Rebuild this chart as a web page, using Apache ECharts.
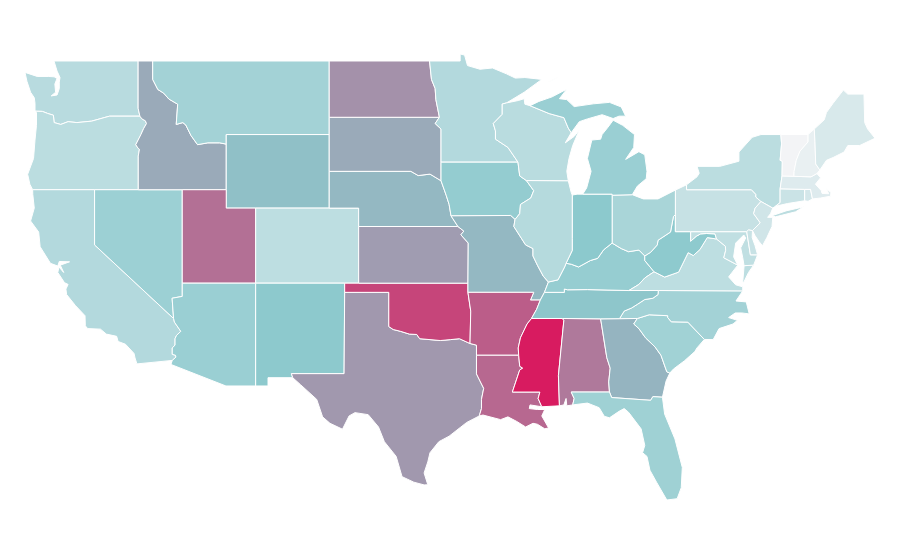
<!DOCTYPE html>
<html>
<head>
<meta charset="utf-8">
<title>US states</title>
<style>html,body{margin:0;padding:0;background:#fff}#main{width:900px;height:560px}</style>
<script src="https://cdn.jsdelivr.net/npm/echarts@6/dist/echarts.min.js"></script>
</head>
<body>
<div id="main"></div>
<script>
var stateNames = ['Washington','Oregon','California','Nevada','Idaho','Montana','Wyoming','Utah','Colorado','Arizona','New Mexico','Texas','Oklahoma','Kansas','Nebraska','South Dakota','North Dakota','Minnesota','Iowa','Missouri','Arkansas','Louisiana','Mississippi','Alabama','Georgia','Florida','South Carolina','North Carolina','Tennessee','Kentucky','Virginia','West Virginia','Maryland','Delaware','Pennsylvania','Ohio','Indiana','Illinois','Wisconsin','Michigan','New York','Connecticut','Rhode Island','Massachusetts','Vermont','New Hampshire','Maine','New Jersey'];
var stateValues = [28.6,27,31,42,59,39,52.6,75.6,26,43,49.5,64,88,63,55,59,66,31,46,55,81,78,100,73,56,41,40,39,51,45,26,49,25,21,22,36,50,30,28,43,27,20,15,10,0,5,13,17];

// lon,lat outlines, | starts another ring of the same state
var stateOutlines = {
'Washington':'-124.73,48.38 -123.9,48.16 -123.15,48.16 -122.75,48.14 -122.55,48.05 -122.7,47.75 -122.65,47.3 -122.95,47.1 -122.55,47.15 -122.4,47.5 -122.4,47.85 -122.35,48.1 -122.55,48.45 -122.76,49 -117.04,49 -117.04,46.43 -116.92,46 -118.98,46 -119.3,45.93 -120.2,45.73 -121.2,45.65 -121.8,45.7 -122.3,45.55 -122.75,45.65 -122.8,46.05 -123.2,46.15 -123.55,46.26 -124.05,46.27 -124.05,46.7 -124.1,47 -124.35,47.3 -124.6,47.9',
'Oregon':'-123.55,46.26 -123.2,46.15 -122.8,46.05 -122.75,45.65 -122.3,45.55 -121.8,45.7 -121.2,45.65 -120.2,45.73 -119.3,45.93 -118.98,46 -116.92,46 -116.78,45.85 -116.55,45.75 -116.47,45.6 -116.67,45.32 -116.85,45 -117.2,44.45 -117.04,44.25 -116.95,44.2 -117.03,43.83 -117.03,42 -120,42 -124.21,42 -124.4,42.3 -124.55,42.84 -124.15,43.7 -124.05,44.7 -123.95,45.5 -123.95,46.2 -124.05,46.27',
'California':'-124.21,42 -120,42 -120,39 -114.63,35 -114.57,34.8 -114.14,34.3 -114.43,34.08 -114.53,33.9 -114.53,33.55 -114.72,33.4 -114.72,33.05 -114.5,33 -114.47,32.9 -114.72,32.72 -117.12,32.53 -117.25,32.85 -117.32,33.1 -117.9,33.6 -118.4,33.75 -118.5,34.03 -119.2,34.15 -119.6,34.42 -120.47,34.45 -120.63,34.6 -120.65,35.15 -121.3,35.7 -121.9,36.3 -121.95,36.6 -121.8,36.85 -122.05,36.95 -122.5,37.5 -122.42,37.8 -122.1,37.5 -122.33,37.9 -121.7,38.08 -122.4,38.1 -122.5,37.85 -123,38 -123.7,38.9 -123.8,39.7 -124.35,40.3 -124.1,41 -124.2,41.75',
'Nevada':'-120,42 -117.03,42 -114.04,42 -114.04,36.92 -114.04,36.2 -114.73,36.1 -114.63,35 -120,39',
'Idaho':'-117.04,49 -116.05,49 -116.05,48 -115.7,47.45 -115.3,47.25 -114.95,46.93 -114.35,46.65 -114.45,45.55 -114,45.65 -113.8,45.52 -113.45,44.95 -113,44.45 -112.3,44.55 -111.5,44.55 -111.05,44.48 -111.05,42 -114.04,42 -117.03,42 -117.03,43.83 -116.95,44.2 -117.04,44.25 -117.2,44.45 -116.85,45 -116.67,45.32 -116.47,45.6 -116.55,45.75 -116.78,45.85 -116.92,46 -117.04,46.43',
'Montana':'-116.05,49 -104.05,49 -104.05,45.94 -104.05,45 -111.05,45 -111.05,44.48 -111.5,44.55 -112.3,44.55 -113,44.45 -113.45,44.95 -113.8,45.52 -114,45.65 -114.45,45.55 -114.35,46.65 -114.95,46.93 -115.3,47.25 -115.7,47.45 -116.05,48',
'Wyoming':'-111.05,45 -104.05,45 -104.05,43 -104.05,41 -109.05,41 -111.05,41 -111.05,42',
'Utah':'-114.04,42 -111.05,42 -111.05,41 -109.05,41 -109.05,36.92 -114.04,36.92',
'Colorado':'-109.05,41 -104.05,41 -102.05,41 -102.05,40 -102.05,36.92 -103,36.92 -109.05,36.92',
'Arizona':'-114.04,36.92 -109.05,36.92 -109.05,31.33 -111.07,31.33 -114.81,32.5 -114.72,32.72 -114.47,32.9 -114.5,33 -114.72,33.05 -114.72,33.4 -114.53,33.55 -114.53,33.9 -114.43,34.08 -114.14,34.3 -114.57,34.8 -114.63,35 -114.73,36.1 -114.04,36.2',
'New Mexico':'-109.05,36.92 -103,36.92 -103,36.42 -103.04,32 -106.62,32 -106.53,31.78 -108.21,31.78 -108.21,31.33 -109.05,31.33',
'Texas':'-103,36.42 -100,36.42 -100,34.56 -99.7,34.4 -99.2,34.3 -98.6,34.15 -98.1,34.13 -97.9,33.9 -97.2,33.85 -96.5,33.8 -95.8,33.85 -95.2,33.9 -94.48,33.64 -94.04,33.55 -94.04,33 -94.04,31.99 -93.8,31.6 -93.55,31.2 -93.7,30.6 -93.7,30.1 -93.85,29.7 -94.7,29.35 -95.1,29.1 -95.9,28.6 -96.6,28.3 -97.2,27.7 -97.35,27.2 -97.6,26.6 -97.35,25.96 -97.6,25.95 -98.3,26.1 -99.1,26.4 -99.5,27.5 -100.3,28.3 -100.7,29.1 -101.4,29.77 -102.3,29.88 -102.7,29.7 -103.15,28.98 -104,29.3 -104.5,29.65 -104.9,30.6 -106,31.4 -106.53,31.78 -106.62,32 -103.04,32',
'Oklahoma':'-103,36.92 -102.05,36.92 -94.62,36.92 -94.62,36.42 -94.43,35.4 -94.48,33.64 -95.2,33.9 -95.8,33.85 -96.5,33.8 -97.2,33.85 -97.9,33.9 -98.1,34.13 -98.6,34.15 -99.2,34.3 -99.7,34.4 -100,34.56 -100,36.42 -103,36.42',
'Kansas':'-102.05,40 -95.3,40 -94.9,39.75 -95.1,39.55 -94.6,39.1 -94.62,36.92 -102.05,36.92',
'Nebraska':'-104.05,43 -98.5,43 -98,42.77 -97.2,42.85 -96.45,42.49 -96.1,41.7 -95.9,41.2 -95.77,40.58 -95.3,40 -102.05,40 -102.05,41 -104.05,41',
'South Dakota':'-104.05,45.94 -96.56,45.94 -96.85,45.6 -96.45,45.3 -96.45,43.5 -96.45,42.49 -97.2,42.85 -98,42.77 -98.5,43 -104.05,43',
'North Dakota':'-104.05,49 -97.23,49 -97.1,48 -96.85,47.5 -96.8,46.9 -96.56,45.94 -104.05,45.94',
'Minnesota':'-97.23,49 -95.15,49 -95.15,49.38 -94.85,49.32 -94.65,48.75 -93.8,48.55 -92.95,48.62 -92,48.3 -91.4,48.07 -90.75,48.1 -89.6,48 -90.8,47.3 -92,46.72 -92.29,46.66 -92.29,46.1 -92.9,45.6 -92.75,45.2 -92.75,44.75 -91.9,44.3 -91.22,43.5 -96.45,43.5 -96.45,45.3 -96.85,45.6 -96.56,45.94 -96.8,46.9 -96.85,47.5 -97.1,48',
'Iowa':'-96.45,43.5 -91.22,43.5 -91.1,42.75 -90.65,42.5 -90.15,41.95 -90.35,41.55 -91.05,41.2 -91.1,40.7 -91.42,40.38 -91.72,40.6 -95.77,40.58 -95.9,41.2 -96.1,41.7 -96.45,42.49',
'Missouri':'-95.77,40.58 -91.72,40.6 -91.42,40.38 -91.5,40 -90.7,39 -90.2,38.8 -90.2,38.4 -89.9,37.9 -89.5,37.3 -89.15,36.98 -89.42,36.42 -89.7,36 -90.37,36 -90.15,36.42 -94.62,36.42 -94.62,36.92 -94.6,39.1 -95.1,39.55 -94.9,39.75 -95.3,40',
'Arkansas':'-94.62,36.42 -90.15,36.42 -90.37,36 -89.7,36 -89.95,35.5 -90.3,35 -90.6,34.7 -91.05,33.95 -91.2,33.4 -91.17,33 -94.04,33 -94.04,33.55 -94.48,33.64 -94.43,35.4',
'Louisiana':'-94.04,33 -91.17,33 -91.1,32.4 -90.9,32.3 -91.1,32.2 -91.6,31 -89.73,31 -89.85,30.65 -89.6,30.2 -90.4,30.3 -90.45,30.1 -89.9,30.05 -89.4,30.05 -89.6,29.7 -89.14,29.05 -89.4,29 -89.9,29.25 -90.2,29.3 -90.7,29.1 -91.3,29.4 -91.9,29.65 -92.4,29.5 -93.6,29.75 -93.85,29.7 -93.7,30.1 -93.7,30.6 -93.55,31.2 -93.8,31.6 -94.04,31.99',
'Mississippi':'-90.3,35 -88.2,35 -88.1,34.9 -88.47,31.9 -88.4,30.25 -89.6,30.2 -89.85,30.65 -89.73,31 -91.6,31 -91.1,32.2 -90.9,32.3 -91.1,32.4 -91.17,33 -91.2,33.4 -91.05,33.95 -90.6,34.7',
'Alabama':'-88.2,35 -85.6,34.98 -85.18,32.87 -84.95,32.3 -85.05,31.55 -85,31 -87.6,31 -87.4,30.65 -87.5,30.3 -87.9,30.25 -87.95,30.65 -88.1,30.3 -88.4,30.25 -88.47,31.9 -88.1,34.9',
'Georgia':'-85.6,34.98 -84.32,34.99 -83.1,35 -83.35,34.7 -83,34.45 -82.55,33.95 -81.9,33.45 -81.5,33 -81.1,32.1 -80.9,32.03 -81.15,31.6 -81.4,30.72 -82.05,30.75 -82.2,30.55 -84.85,30.7 -85,31 -85.05,31.55 -84.95,32.3 -85.18,32.87',
'Florida':'-87.6,31 -85,31 -84.85,30.7 -82.2,30.55 -82.05,30.75 -81.4,30.72 -81.25,29.8 -80.55,28.45 -80.05,26.9 -80.12,25.8 -80.4,25.2 -81.1,25.13 -81.8,26.1 -82.25,26.75 -82.45,27.5 -82.75,27.7 -82.6,28.1 -82.85,29 -83.7,29.9 -84,30.1 -84.35,29.95 -85,29.6 -85.35,29.68 -85.7,30.15 -86.5,30.4 -87.5,30.3 -87.4,30.65',
'South Carolina':'-83.35,34.7 -83.1,35 -82.3,35.2 -81.04,35.15 -81.04,35.05 -80.8,34.82 -79.67,34.8 -78.55,33.86 -79.05,33.4 -79.2,33.2 -79.9,32.7 -80.65,32.25 -80.9,32.03 -81.1,32.1 -81.5,33 -81.9,33.45 -82.55,33.95 -83,34.45',
'North Carolina':'-84.32,34.99 -83.1,35 -82.3,35.2 -81.04,35.15 -81.04,35.05 -80.8,34.82 -79.67,34.8 -78.55,33.86 -77.95,33.85 -77.55,34.45 -76.6,34.7 -76.3,34.9 -76.9,35.05 -76.45,35.3 -76,35.3 -75.5,35.25 -75.7,35.9 -76.4,35.95 -75.94,36.5 -81.68,36.52 -81.7,36.3 -82.05,36.1 -82.6,36.03 -83.1,35.77 -83.5,35.57 -84,35.4',
'Tennessee':'-90.3,35 -89.95,35.5 -89.7,36 -89.42,36.42 -88.07,36.42 -88.07,36.6 -87.85,36.56 -86.5,36.57 -83.68,36.52 -81.68,36.52 -81.7,36.3 -82.05,36.1 -82.6,36.03 -83.1,35.77 -83.5,35.57 -84,35.4 -84.32,34.99 -85.6,34.98 -88.2,35',
'Kentucky':'-89.42,36.42 -88.07,36.42 -88.07,36.6 -87.85,36.56 -86.5,36.57 -83.68,36.52 -83,36.85 -82.6,37.2 -81.97,37.54 -82.6,38.15 -82.6,38.4 -83,38.72 -83.7,38.63 -84.2,38.8 -84.82,39.1 -85.4,38.73 -85.8,38.27 -86.3,38.15 -87.1,37.8 -87.6,37.95 -87.95,38 -88.05,37.8 -88.5,37.1 -89.15,36.98',
'Virginia':'-83.68,36.52 -81.68,36.52 -75.94,36.5 -75.94,36.72 -76.42,36.83 -76.9,37.26 -76.28,37.9 -77.23,38.3 -77.1,38.7 -77.12,38.93 -77.72,39.32 -78.35,39.4 -78.85,38.75 -79.3,38.42 -79.65,38.58 -80.3,37.52 -81.25,37.25 -81.97,37.54 -82.6,37.2 -83,36.85|-75.2,37.9 -75.55,37.5 -75.87,36.97 -75.94,37 -75.87,37.64 -75.85,37.87',
'West Virginia':'-81.97,37.54 -81.25,37.25 -80.3,37.52 -79.65,38.58 -79.3,38.42 -78.85,38.75 -78.35,39.4 -77.72,39.32 -77.83,39.6 -78.4,39.62 -78.8,39.6 -79.1,39.47 -79.48,39.2 -79.48,39.72 -80.52,39.72 -80.52,40.64 -80.65,40.55 -80.85,39.7 -81.7,39.25 -81.75,39 -82.2,38.6 -82.6,38.4 -82.6,38.15',
'Maryland':'-79.48,39.72 -75.67,39.72 -75.42,38.46 -74.93,38.46 -75.2,37.9 -75.85,37.87 -75.94,38.3 -76.08,38.84 -75.74,39.38 -75.87,39.54 -76.42,39.1 -76.56,38.35 -76.28,37.9 -77.23,38.3 -77.1,38.7 -77.12,38.93 -77.72,39.32 -77.83,39.6 -78.4,39.62 -78.8,39.6 -79.1,39.47 -79.48,39.2',
'Delaware':'-75.67,39.72 -75.55,39.83 -75.28,39.78 -75.3,39.4 -75.1,38.95 -74.93,38.46 -75.42,38.46',
'Pennsylvania':'-80.52,41.98 -79.76,42.27 -79.76,42 -75.35,42 -75.05,41.75 -75.05,41.6 -74.7,41.36 -75.1,41 -75.13,40.98 -75.2,40.7 -74.75,40.2 -75.28,39.78 -75.55,39.83 -75.67,39.72 -79.48,39.72 -80.52,39.72 -80.52,40.64',
'Ohio':'-84.82,41.7 -83.45,41.73 -82.7,41.5 -81.7,41.5 -80.52,41.98 -80.52,40.64 -80.65,40.55 -80.85,39.7 -81.7,39.25 -81.75,39 -82.2,38.6 -82.6,38.4 -83,38.72 -83.7,38.63 -84.2,38.8 -84.82,39.1',
'Indiana':'-87.53,41.71 -87.2,41.76 -86.82,41.76 -84.82,41.76 -84.82,41.7 -84.82,39.1 -85.4,38.73 -85.8,38.27 -86.3,38.15 -87.1,37.8 -87.6,37.95 -87.95,38 -87.53,38.7 -87.53,39.35',
'Illinois':'-90.65,42.5 -87.8,42.49 -87.6,41.85 -87.53,41.71 -87.53,39.35 -87.53,38.7 -87.95,38 -88.05,37.8 -88.5,37.1 -89.15,36.98 -89.5,37.3 -89.9,37.9 -90.2,38.4 -90.2,38.8 -90.7,39 -91.5,40 -91.42,40.38 -91.1,40.7 -91.05,41.2 -90.35,41.55 -90.15,41.95',
'Wisconsin':'-92.29,46.66 -92,46.72 -91.2,46.85 -90.8,46.95 -90.75,46.65 -90.4,46.57 -89.1,46.14 -88.1,45.92 -87.8,45.35 -87.6,45.1 -88,44.55 -87.4,44.9 -87.05,45.25 -87.5,44.4 -87.75,43.7 -87.9,43 -87.8,42.49 -90.65,42.5 -91.1,42.75 -91.22,43.5 -91.9,44.3 -92.75,44.75 -92.75,45.2 -92.9,45.6 -92.29,46.1',
'Michigan':'-86.82,41.76 -84.82,41.76 -84.82,41.7 -83.45,41.73 -83.1,42.2 -82.5,42.6 -82.45,43 -82.6,43.9 -83,44.07 -83.9,43.65 -83.35,44.3 -83.3,45 -84.1,45.5 -84.75,45.78 -85.1,45.4 -85.5,45 -85.6,44.75 -86.2,44.7 -86.5,43.7 -86.25,43 -86.55,42.1|-90.4,46.57 -89.1,46.14 -88.1,45.92 -87.8,45.35 -87.6,45.1 -87.05,45.7 -86.5,45.85 -85.5,46.08 -84.75,45.87 -84.35,46 -83.9,46 -84.2,46.5 -85,46.75 -86.1,46.67 -87.4,46.52 -87.9,46.9 -88.4,46.95 -87.9,47.47 -88.9,47.05 -89.8,46.8|-89.2,47.85 -88.4,48.15 -88.9,47.95',
'New York':'-79.76,42.27 -79.05,42.7 -78.9,42.9 -79.05,43.27 -77.5,43.27 -76.2,43.55 -76.2,44.05 -75.3,44.85 -74.7,45 -73.35,45 -73.3,44.5 -73.4,43.6 -73.25,43.55 -73.27,42.75 -73.4,42.05 -73.4,41.3 -73.72,41.1 -73.9,41 -74.7,41.36 -75.05,41.6 -75.05,41.75 -75.35,42 -79.76,42|-73.97,40.58 -73,40.85 -71.8,41.07 -72.35,40.8 -73.7,40.53',
'Connecticut':'-73.4,42.05 -71.73,42.02 -71.73,41.4 -72.9,41.25 -73.72,41.1 -73.4,41.3',
'Rhode Island':'-71.73,42.02 -71.33,42.02 -71.2,41.5 -71.5,41.37 -71.73,41.4',
'Massachusetts':'-73.4,42.05 -73.27,42.75 -72.46,42.73 -71.3,42.7 -70.9,42.88 -70.65,42.65 -71,42.3 -70.6,41.95 -70.55,41.8 -70.1,41.78 -70.25,42.07 -69.95,41.85 -69.97,41.65 -70.65,41.55 -71.2,41.5 -71.33,42.02 -71.73,42.02',
'Vermont':'-73.35,45 -71.5,45 -71.5,44.6 -72.05,44.1 -72.3,43.6 -72.45,43 -72.46,42.73 -73.27,42.75 -73.25,43.55 -73.4,43.6 -73.3,44.5',
'New Hampshire':'-71.5,45 -71.08,45.3 -71.03,44.6 -70.98,43.4 -70.7,43.07 -70.9,42.88 -71.3,42.7 -72.46,42.73 -72.45,43 -72.3,43.6 -72.05,44.1 -71.5,44.6',
'Maine':'-71.08,45.3 -70.4,45.8 -70.25,46.2 -69.8,46.7 -69.1,47.42 -68.8,47.2 -67.7,47.2 -67.65,45.65 -67.45,45.3 -66.95,44.8 -68,44.4 -68.8,44.4 -69.05,44.05 -69.8,43.75 -70.25,43.6 -70.7,43.07 -70.98,43.4 -71.03,44.6',
'New Jersey':'-73.9,41 -74.7,41.36 -75.1,41 -75.13,40.98 -75.2,40.7 -74.75,40.2 -75.28,39.78 -75.1,39.5 -74.85,39.2 -74.6,38.95 -74.3,39.4 -73.95,40 -73.9,40.5 -74.25,40.5 -74.05,40.7'
};

function toRing(str){
    var ring = str.split(' ').map(function(p){
        return p.split(',').map(Number);
    });
    ring.push(ring[0]);
    return ring;
}

var geoJson = {
    type: 'FeatureCollection',
    features: stateNames.map(function(name){
        return {
            type: 'Feature',
            properties: {name: name},
            geometry: {
                type: 'MultiPolygon',
                coordinates: stateOutlines[name].split('|').map(function(s){ return [toRing(s)]; })
            }
        };
    })
};

echarts.registerMap('USA', geoJson);
var myChart = echarts.init(document.getElementById('main'));
myChart.setOption({
    animation: false,
    backgroundColor: '#fff',
    visualMap: {
        show: false,
        min: 0,
        max: 100,
        inRange: {color: ['#f3f4f6', '#8cc9cd', '#d81b60']}
    },
    series: [{
        type: 'map',
        map: 'USA',
        aspectScale: 0.8,
        left: 25,
        right: 25,
        top: 54,
        bottom: 60,
        silent: true,
        label: {show: false},
        itemStyle: {borderColor: '#fff', borderWidth: 1},
        data: stateNames.map(function(name, i){
            return {name: name, value: stateValues[i]};
        })
    }]
});
</script>
</body>
</html>
